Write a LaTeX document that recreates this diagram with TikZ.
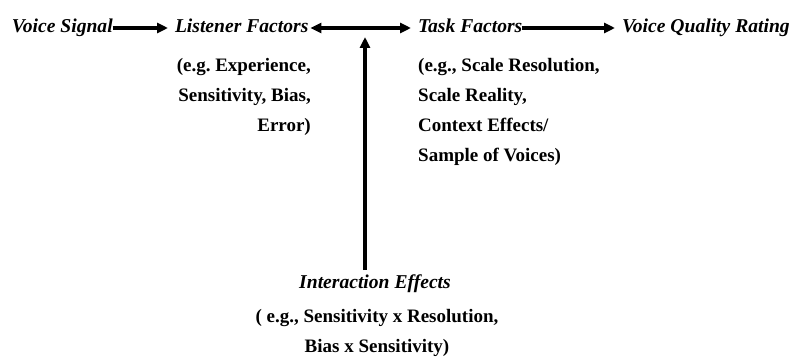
\documentclass[tikz,border=0pt]{standalone}
\usepackage{fontspec}
\setmainfont{Liberation Serif}
\usetikzlibrary{positioning,arrows.meta}
\frenchspacing

\begin{document}
\begin{tikzpicture}[
    x=1pt, y=-1pt,
    factor/.style={font=\fontsize{19.6}{30}\selectfont\bfseries\itshape, inner sep=0pt, outer sep=0pt, text height=14pt, text depth=4pt},
    detail/.style={font=\fontsize{19}{30}\selectfont\bfseries, inner sep=0pt},
    arrow/.style={-{Triangle[length=11pt,width=10pt]}, line width=3.2pt, shorten >=7pt},
    both/.style={{Triangle[length=11pt,width=10pt]}-{Triangle[length=11pt,width=10pt]}, line width=3.2pt, shorten <=2pt, shorten >=7pt}
]
    \useasboundingbox (0,0) rectangle (796,361);

    % main chain
    \node[factor, anchor=base west] (signal) at (12,33) {Voice Signal};
    \node[factor, anchor=base west] (listener) at (175,33) {Listener Factors};
    \node[factor, anchor=base west] (task) at (418,33) {Task Factors};
    \node[factor, anchor=base west] (rating) at (622,33) {Voice Quality Rating};

    % examples under each factor
    \node[detail, align=right, anchor=north east] (listenerex) at (311,58) {(e.g. Experience,\\ Sensitivity, Bias,\\ Error)};
    \node[detail, align=left, anchor=north west] (taskex) at (418,58) {(e.g., Scale Resolution,\\ Scale Reality,\\ Context Effects/\\ Sample of Voices)};

    \node[factor] (inter) at (375,283) {Interaction Effects};
    \node[detail, align=center, anchor=north] (interex) at (377,309) {( e.g., Sensitivity x Resolution,\\ Bias x Sensitivity)};

    \coordinate (meet) at (365,37);

    \draw[arrow] (signal) -- (listener);
    \draw[both] (listener) -- (task);
    \draw[arrow] (task) -- (rating);
    \draw[arrow, shorten >=0pt, shorten <=4pt] (meet |- inter.north) -- (meet);
\end{tikzpicture}
\end{document}
